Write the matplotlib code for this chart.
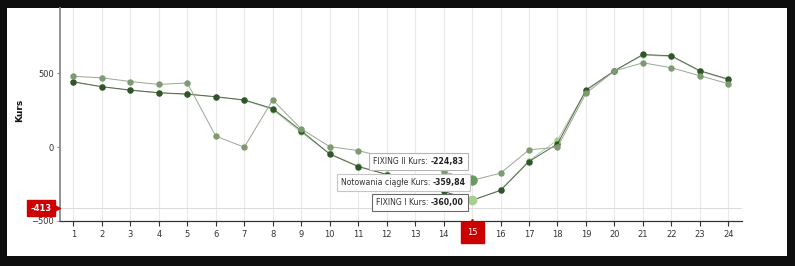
import numpy as np
import matplotlib
matplotlib.use("Agg")
import matplotlib.pyplot as plt
from matplotlib.patches import Rectangle
from matplotlib.offsetbox import TextArea, HPacker, AnnotationBbox

plt.rcParams['font.family'] = ['DejaVu Sans']

hours = list(range(1, 25))
fixing2 = [480, 470, 445, 425, 435, 75, 0, 320, 124, 4, -23, -70, -110, -165,
           -224.83, -176, -18, 0, 365, 516, 572, 538, 484, 430]
ciagle = [443, 410, 387, 369, 360, 342, 320, 262, 112, -47, -131, -185, -245, -300,
          -359.84, -293, -97, 22, 387, 518, 628, 619, 518, 461]
fixing1 = [441, 408, 385, 367, 358, 340, 318, 255, 100, -42, -128, -183, -243, -298,
           -360.00, -290, -92, 49, 383, 516, 624, 615, 514, 457]
ref_level = -413
sel_hour = 15
yticks = [-500, 0, 500]

labels = {'f2': 'FIXING II Kurs: ', 'nc': 'Notowania ciągłe Kurs: ', 'f1': 'FIXING I Kurs: '}

def fmt(v):
    return ('%.2f' % v).replace('.', ',')

fig = plt.figure(figsize=(7.95, 2.66), dpi=100, facecolor='#0e0e0e')
fig.patches.append(Rectangle((7/795, 1-256/266), 780/795, 248/266, transform=fig.transFigure,
                             facecolor='white', edgecolor='none', zorder=-10))
ax = fig.add_axes([60/795, 1-221/266, 682/795, 213/266])
ax.set_facecolor('white')

for h in hours:
    ax.axvline(h, color='#e9e9e9', lw=0.8, zorder=0)
ax.axhline(ref_level, color='#dcdcdc', lw=0.8, zorder=1)

ax.plot(hours, fixing1, '-o', color='#b0cca4', mfc='#9fcf8a', mec='#9fcf8a', lw=0.7, ms=3.6, zorder=3)
ax.plot(hours, ciagle, '-o', color='#56664f', mfc='#2f5529', mec='#2f5529', lw=0.7, ms=3.6, zorder=4)
ax.plot(hours, fixing2, '-o', color='#98a891', mfc='#7d9a70', mec='#7d9a70', lw=0.7, ms=3.6, zorder=5)

i = hours.index(sel_hour)
ax.plot(sel_hour, fixing1[i], 'o', color='#a6d08f', ms=6, zorder=6)
ax.plot(sel_hour, fixing2[i], 'o', color='#6b9a5e', ms=6.5, zorder=6)

ax.set_xlim(0.53, 24.48)
ax.set_ylim(-500, 943)
ax.set_xticks(hours)
ax.set_yticks(yticks)
ax.tick_params(axis='x', direction='out', length=3.5, width=0.8, color='#333333',
               labelsize=6, labelcolor='#333333', pad=3)
ax.tick_params(axis='y', direction='out', length=2.5, width=0.8, color='#888888',
               labelsize=6, labelcolor='#333333', pad=2)
for s in ['top', 'right']:
    ax.spines[s].set_visible(False)
ax.spines['left'].set_color('#8a8a8a')
ax.spines['left'].set_linewidth(1.3)
ax.spines['bottom'].set_color('#333333')
ax.spines['bottom'].set_linewidth(0.9)

ax.set_ylabel('Kurs', fontsize=6.5, fontweight='bold', color='#111111')
ax.yaxis.set_label_coords(-0.052, 0.52)

# selected hour: hide normal tick label, draw red badge instead
for lab in ax.get_xticklabels():
    if lab.get_text() == str(sel_hour):
        lab.set_visible(False)
ax.annotate(str(sel_hour), xy=(sel_hour, 0), xycoords=ax.get_xaxis_transform(),
            xytext=(0, -8.2), textcoords='offset points', ha='center', va='center',
            fontsize=6, color='white', annotation_clip=False,
            bbox=dict(facecolor='#cc0000', edgecolor='#cc0000', boxstyle='square,pad=0.75'), zorder=10)
ax.plot([sel_hour], [0], '^', color='#cc0000', ms=3, transform=ax.get_xaxis_transform(),
        clip_on=False, zorder=10)

# reference level label on the y axis
ax.text(-0.028, ref_level, str(ref_level), transform=ax.get_yaxis_transform(), ha='center', va='center',
        fontsize=6, color='white', fontweight='bold',
        bbox=dict(facecolor='#cc0000', edgecolor='#cc0000', boxstyle='square,pad=0.45'), zorder=10)
ax.plot([-0.005], [ref_level], '>', color='#cc0000', ms=4, transform=ax.get_yaxis_transform(),
        clip_on=False, zorder=10)

# tooltips
tips = [(labels['f2'], fixing2[i], (-6.0, 13.7), '#b5b5b5'),
        (labels['nc'], ciagle[i], (-4.5, 12.8), '#c5c5c5'),
        (labels['f1'], fixing1[i], (-6.0, -1.6), '#6a6a6a')]
for name, val, off, ec in tips:
    box = HPacker(children=[TextArea(name, textprops=dict(fontsize=5.6, color='#333333')),
                            TextArea(fmt(val), textprops=dict(fontsize=5.6, color='#222222', fontweight='bold'))],
                  pad=0, sep=0, align='baseline')
    ab = AnnotationBbox(box, (sel_hour, val), xybox=off, xycoords='data', boxcoords='offset points',
                        box_alignment=(1, 0.5), frameon=True, pad=0.6,
                        bboxprops=dict(facecolor='white', edgecolor=ec, lw=0.8, boxstyle='square'))
    ab.set_zorder(8)
    ax.add_artist(ab)

fig.savefig('out.png', dpi=100, facecolor=fig.get_facecolor())
